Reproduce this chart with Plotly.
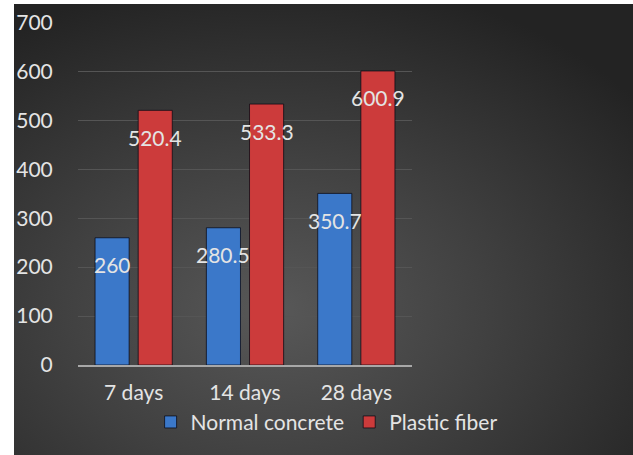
import base64
import plotly.graph_objects as go

# ---- data ----
categories = ["7 days", "14 days", "28 days"]
normal_concrete = [260, 280.5, 350.7]
plastic_fiber = [520.4, 533.3, 600.9]
series_names = ["Normal concrete", "Plastic fiber"]
y_ticks = [0, 100, 200, 300, 400, 500, 600, 700]

# ---- style ----
W, H = 633, 455
ML, MT = 14, 4
PW, PH = W - ML, H - MT
FONT = "Lato"
TXT = "#e4e4e4"
BLUE = "#3b78c9"
RED = "#cc3b3b"
BARGAP = 0.225
GROUPGAP = 0.21

x_dom = [(78 - ML) / PW, (412 - ML) / PW]
y_dom = [(H - 365) / PH, (H - 22) / PH]

svg = f"""<svg xmlns='http://www.w3.org/2000/svg' width='{PW}' height='{PH}' viewBox='0 0 {PW} {PH}' preserveAspectRatio='none'>
<defs><radialGradient id='g' cx='0.42' cy='0.68' r='0.75' fx='0.42' fy='0.68'>
<stop offset='0' stop-color='#585858'/><stop offset='0.45' stop-color='#414141'/><stop offset='1' stop-color='#232323'/>
</radialGradient></defs><rect width='{PW}' height='{PH}' fill='url(#g)'/></svg>"""
bg_src = "data:image/svg+xml;base64," + base64.b64encode(svg.encode()).decode()

fig = go.Figure()
for name, vals, col in [(series_names[0], normal_concrete, BLUE), (series_names[1], plastic_fiber, RED)]:
    fig.add_trace(go.Bar(
        x=categories, y=vals, name=name,
        marker=dict(color=col, line=dict(color="rgba(10,10,20,0.75)", width=1)),
        hoverinfo="x+y",
    ))

# data labels inside the bars near the top
plot_w_px = (x_dom[1] - x_dom[0]) * PW
cat_w = plot_w_px / len(categories)
slot_off = cat_w * (1 - BARGAP) / 4
annos = []
for i, vals in enumerate([normal_concrete, plastic_fiber]):
    for c, v in zip(categories, vals):
        annos.append(dict(
            x=c, y=v, xref="x", yref="y", text=str(v), showarrow=False,
            xshift=(-slot_off if i == 0 else slot_off), yshift=-27,
            yanchor="middle", xanchor="center",
            font=dict(family=FONT, size=21, color=TXT),
        ))

fig.update_layout(
    width=W, height=H,
    margin=dict(l=ML, r=0, t=MT, b=0, pad=0, autoexpand=False),
    paper_bgcolor="white",
    plot_bgcolor="rgba(0,0,0,0)",
    barmode="group", bargap=BARGAP, bargroupgap=GROUPGAP,
    font=dict(family=FONT, size=21, color=TXT),
    images=[dict(source=bg_src, xref="paper", yref="paper", x=0, y=1,
                 sizex=1, sizey=1, xanchor="left", yanchor="top",
                 sizing="stretch", layer="below")],
    annotations=annos,
    showlegend=True,
    legend=dict(orientation="h", x=0.505, xanchor="center", y=0.118, yanchor="top",
                font=dict(family=FONT, size=21, color=TXT),
                bgcolor="rgba(0,0,0,0)", itemwidth=30, traceorder="normal"),
    xaxis=dict(domain=x_dom, showgrid=False, showline=True, linecolor="#a8a8a8",
               linewidth=2, ticks="outside", ticklen=8, tickcolor="rgba(0,0,0,0)",
               tickfont=dict(family=FONT, size=21, color=TXT), zeroline=False,
               fixedrange=True),
    yaxis=dict(domain=y_dom, range=[0, 701], tickvals=y_ticks, showgrid=True,
               gridcolor="#555555", gridwidth=1, zeroline=False, showline=False,
               ticks="outside", ticklen=20, tickcolor="rgba(0,0,0,0)",
               tickfont=dict(family=FONT, size=21, color=TXT), fixedrange=True),
)

fig.write_html("out.html")
